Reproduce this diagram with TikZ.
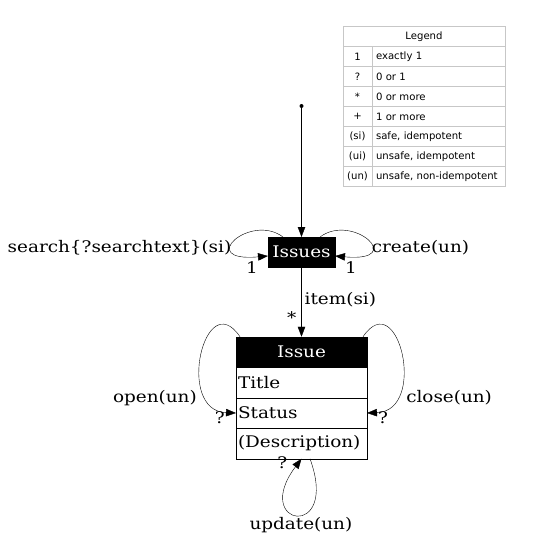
\documentclass[tikz,border=0pt]{standalone}
\usepackage{fontspec}
\setmainfont[FakeStretch=1.15]{DejaVu Serif}
\newfontfamily\legendfont{DejaVu Sans}
\usetikzlibrary{arrows.meta,positioning}

\begin{document}
\begin{tikzpicture}[x=1pt,y=1pt,node distance=100pt,
    >={Triangle[length=10pt,width=7.5pt]},
    font=\fontsize{16}{19}\selectfont,
    resource/.style={draw=black,fill=black,text=white,minimum width=67pt,minimum height=30pt,inner sep=0pt,outer sep=0pt},
    classhead/.style={draw=black,fill=black,text=white,minimum width=131pt,minimum height=30.5pt,inner sep=0pt,outer sep=0pt},
    classrow/.style={draw=black,text width=127pt,inner xsep=2pt,inner ysep=0pt,minimum height=30.5pt,align=left,outer sep=0pt},
    startdot/.style={circle,fill=black,inner sep=0pt,minimum size=4pt},
    legkey/.style={draw=black!22,font=\legendfont\fontsize{10.1}{12}\selectfont,minimum width=29pt,minimum height=20pt,inner sep=0pt,outer sep=0pt},
    legval/.style={legkey,text width=125pt,inner xsep=4pt,align=left},
    legtitle/.style={legkey,minimum width=162pt},
    lbl/.style={inner sep=1pt}]

        \useasboundingbox (0,0) rectangle (532,-534);

        % legend
        \node[legtitle] (Legend) at (424,-36.5)                                          {Legend};
        \node[legkey]   (K1) [below=0pt of Legend.south west,anchor=north west] {1};
        \node[legval]   (V1) [right=0pt of K1]                                         {exactly 1};
        \node[legkey]   (K2) [below=0pt of K1]                                         {?};
        \node[legval]   (V2) [right=0pt of K2]                                         {0 or 1};
        \node[legkey]   (K3) [below=0pt of K2]                                         {*};
        \node[legval]   (V3) [right=0pt of K3]                                         {0 or more};
        \node[legkey]   (K4) [below=0pt of K3]                                         {+};
        \node[legval]   (V4) [right=0pt of K4]                                         {1 or more};
        \node[legkey]   (K5) [below=0pt of K4]                                         {(si)};
        \node[legval]   (V5) [right=0pt of K5]                                         {safe, idempotent};
        \node[legkey]   (K6) [below=0pt of K5]                                         {(ui)};
        \node[legval]   (V6) [right=0pt of K6]                                         {unsafe, idempotent};
        \node[legkey]   (K7) [below=0pt of K6]                                         {(un)};
        \node[legval]   (V7) [right=0pt of K7]                                         {unsafe, non-idempotent};

        % resources
        \node[startdot]  (start) at (301.5,-106)                       {};
        \node[resource]  (Issues) [below of=start,node distance=146pt]  {Issues};
        \node[classhead] (Issue) [below of=Issues]                      {Issue};
        \node[classrow]  (Title) [below=0pt of Issue]                   {Title};
        \node[classrow]  (Status) [below=0pt of Title]                  {Status};
        \node[classrow]  (Description) [below=0pt of Status]            {(Description)};

        \path[->]
                  (start)  edge (Issues)
                  ([xshift=-18.5pt]Issues.north)
                           edge [out=143,in=185,out distance=41pt,in distance=73pt]
                                node [lbl,pos=0.6,left,yshift=-3pt]            {search\{?searchtext\}(si)}
                                node [lbl,at end,anchor=east,xshift=-9pt,yshift=-12pt] {1}
                                ([yshift=-4pt]Issues.west)
                  ([xshift=18.5pt]Issues.north)
                           edge [out=37,in=-5,out distance=41pt,in distance=73pt]
                                node [lbl,pos=0.6,right,yshift=-3pt]           {create(un)}
                                node [lbl,at end,anchor=west,xshift=9pt,yshift=-12pt]  {1}
                                ([yshift=-4pt]Issues.east)
                  (Issues) edge node [lbl,pos=0.47,right=2pt]                   {item(si)}
                                node [lbl,pos=0.73,left=4pt]                    {*}
                                (Issue)
                  ([xshift=4pt]Issue.north west)
                           edge [out=124,in=178,out distance=63pt,in distance=61pt]
                                node [lbl,pos=0.75,left=8pt,yshift=-5pt]        {open(un)}
                                node [lbl,at end,anchor=east,xshift=-10pt,yshift=-5pt] {?}
                                (Status.west)
                  ([xshift=-4pt]Issue.north east)
                           edge [out=56,in=2,out distance=63pt,in distance=61pt]
                                node [lbl,pos=0.75,right=8pt,yshift=-5pt]       {close(un)}
                                node [lbl,at end,anchor=west,xshift=10pt,yshift=-5pt]  {?}
                                (Status.east)
                  ([xshift=8.5pt]Description.south)
                           edge [out=-70,in=233,out distance=88pt,in distance=85pt]
                                node [lbl,pos=0.5,below=1pt,xshift=3pt]         {update(un)}
                                node [lbl,at end,anchor=east,xshift=-13pt,yshift=-4pt] {?}
                                (Description.south);
\end{tikzpicture}
\end{document}
